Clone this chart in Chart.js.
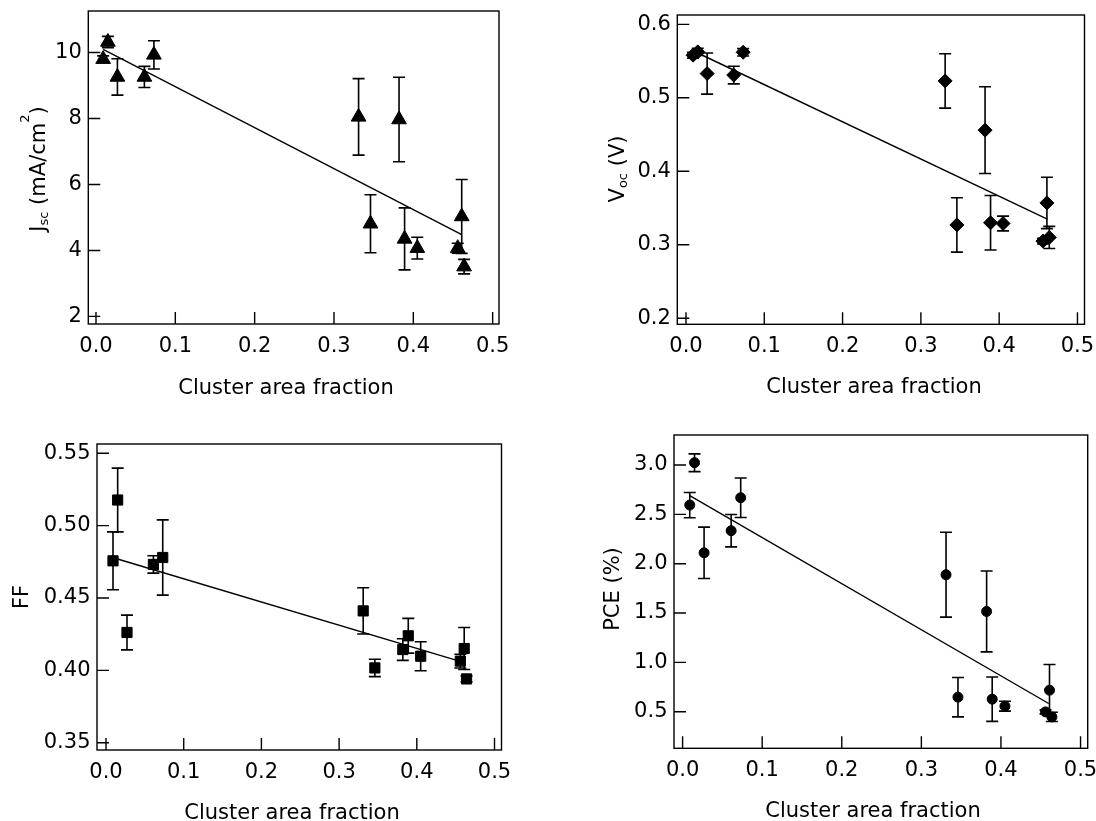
<!DOCTYPE html>
<html lang="en">
  <head>
    <meta charset="UTF-8" />
    <title>Device parameters vs cluster area fraction</title>
    <script src="https://cdn.jsdelivr.net/npm/chart.js@4.4.0/dist/chart.umd.min.js"></script>
    <style>
      body {
        margin: 0;
        background: #fff;
      }
      #wrap {
        position: relative;
        width: 1096px;
        height: 821px;
      }
      #wrap canvas {
        position: absolute;
      }
    </style>
  </head>
  <body>
    <div id="wrap">
      <canvas id="jscChart"></canvas>
      <canvas id="vocChart"></canvas>
      <canvas id="ffChart"></canvas>
      <canvas id="pceChart"></canvas>
    </div>

    <script>
      // cluster area fraction of each device (shared by all four panels)
      const clusterFraction = [0.009, 0.015, 0.027, 0.061, 0.073, 0.331, 0.346, 0.382, 0.389, 0.405, 0.456, 0.461, 0.464];

      const jsc = [9.80, 10.32, 9.26, 9.26, 9.93, 8.05, 4.81, 7.97, 4.35, 4.07, 4.07, 5.03, 3.51];
      const jscErr = [0.10, 0.17, 0.55, 0.32, 0.43, 1.16, 0.88, 1.28, 0.94, 0.33, 0.15, 1.12, 0.22];

      const voc = [0.558, 0.5625, 0.533, 0.531, 0.562, 0.523, 0.327, 0.456, 0.330, 0.329, 0.305, 0.357, 0.310];
      const vocErr = [0.004, 0.005, 0.028, 0.012, 0.005, 0.037, 0.037, 0.059, 0.037, 0.010, 0.004, 0.035, 0.015];

      const ff = [0.4757, 0.5177, 0.4262, 0.4732, 0.478, 0.4411, 0.4017, 0.4144, 0.4239, 0.4098, 0.4064, 0.4151, 0.3941];
      const ffErr = [0.020, 0.022, 0.012, 0.006, 0.026, 0.016, 0.006, 0.0075, 0.012, 0.010, 0.0047, 0.0145, 0.002];

      const pce = [2.594, 3.023, 2.11, 2.334, 2.668, 1.888, 0.647, 1.516, 0.627, 0.556, 0.498, 0.718, 0.447];
      const pceErr = [0.128, 0.09, 0.26, 0.164, 0.20, 0.43, 0.20, 0.41, 0.225, 0.05, 0.02, 0.26, 0.047];

      // linear fit end points
      const jscFitX = [0.009, 0.461];
      const jscFitY = [10.1, 4.48];
      const vocFitX = [0.013, 0.4615];
      const vocFitY = [0.562, 0.335];
      const ffFitX = [0.0094, 0.458];
      const ffFitY = [0.4778, 0.4059];
      const pceFitX = [0.009, 0.46];
      const pceFitY = [2.689, 0.583];

      // tick labels
      const fractionTicks = ['0.0', '0.1', '0.2', '0.3', '0.4', '0.5'];
      const jscTicks = ['2', '4', '6', '8', '10'];
      const vocTicks = ['0.2', '0.3', '0.4', '0.5', '0.6'];
      const ffTicks = ['0.35', '0.40', '0.45', '0.50', '0.55'];
      const pceTicks = ['0.5', '1.0', '1.5', '2.0', '2.5', '3.0'];

      const FONT = 'DejaVu Sans';
      Chart.defaults.font.family = FONT;
      Chart.defaults.font.size = 21;
      Chart.defaults.color = '#000';

      // box = canvas [left, top, width, height]; area = plot frame [left, top, right, bottom]
      const panels = [
        {
          id: 'jscChart', box: [0, 0, 548, 410], area: [88.3, 11, 499, 324],
          xRange: [-0.0097, 0.508], yRange: [1.77, 11.26],
          values: jsc, errors: jscErr, fitX: jscFitX, fitY: jscFitY, yTicks: jscTicks,
          marker: 'triangle', radius: 8.5,
          yTitle: [['J'], ['sc', 'sub'], [' (mA/cm'], ['2', 'sup'], [')']],
          yTitleAt: [45, 169], xTitleAt: [286, 394],
        },
        {
          id: 'vocChart', box: [548, 0, 548, 410], area: [677.3, 15, 1084.5, 324.3],
          xRange: [-0.0111, 0.509], yRange: [0.1918, 0.6127],
          values: voc, errors: vocErr, fitX: vocFitX, fitY: vocFitY, yTicks: vocTicks,
          marker: 'rectRot', radius: 7,
          yTitle: [['V'], ['oc', 'sub'], [' (V)']],
          yTitleAt: [624, 169], xTitleAt: [874, 393],
        },
        {
          id: 'ffChart', box: [0, 410, 548, 411], area: [97, 444, 501.5, 750],
          xRange: [-0.0116, 0.509], yRange: [0.345, 0.5564],
          values: ff, errors: ffErr, fitX: ffFitX, fitY: ffFitY, yTicks: ffTicks,
          marker: 'rect', radius: 7.2,
          yTitle: [['FF']],
          yTitleAt: [27.5, 597], xTitleAt: [292, 819],
        },
        {
          id: 'pceChart', box: [548, 410, 548, 411], area: [674, 435, 1087.7, 748.3],
          xRange: [-0.0108, 0.509], yRange: [0.129, 3.304],
          values: pce, errors: pceErr, fitX: pceFitX, fitY: pceFitY, yTicks: pceTicks,
          marker: 'circle', radius: 5,
          yTitle: [['PCE (%)']],
          yTitleAt: [618.5, 589], xTitleAt: [873, 817],
        },
      ];

      // vertical error bars with caps, drawn under the markers
      const errorBars = {
        id: 'errorBars',
        beforeDatasetsDraw(chart, args, opts) {
          const { ctx } = chart;
          const xs = chart.scales.x;
          const ys = chart.scales.y;
          const pts = chart.data.datasets[0].data;
          ctx.save();
          ctx.strokeStyle = '#000';
          ctx.lineWidth = 1.6;
          pts.forEach((p, i) => {
            const px = xs.getPixelForValue(p.x);
            const top = ys.getPixelForValue(p.y + opts.errors[i]);
            const bot = ys.getPixelForValue(p.y - opts.errors[i]);
            ctx.beginPath();
            ctx.moveTo(px, top);
            ctx.lineTo(px, bot);
            ctx.moveTo(px - 6, top);
            ctx.lineTo(px + 6, top);
            ctx.moveTo(px - 6, bot);
            ctx.lineTo(px + 6, bot);
            ctx.stroke();
          });
          ctx.restore();
        },
      };

      // box frame, inward tick marks and axis titles
      const frame = {
        id: 'frame',
        afterDraw(chart, args, opts) {
          const { ctx, chartArea: a } = chart;
          const xs = chart.scales.x;
          const ys = chart.scales.y;
          ctx.save();
          ctx.strokeStyle = '#000';
          ctx.lineWidth = 1.4;
          ctx.strokeRect(a.left, a.top, a.right - a.left, a.bottom - a.top);
          ctx.beginPath();
          xs.ticks.forEach((t) => {
            const px = xs.getPixelForValue(t.value);
            ctx.moveTo(px, a.bottom);
            ctx.lineTo(px, a.bottom - 12);
          });
          ys.ticks.forEach((t) => {
            const py = ys.getPixelForValue(t.value);
            ctx.moveTo(a.left, py);
            ctx.lineTo(a.left + 12, py);
          });
          ctx.stroke();

          ctx.fillStyle = '#000';
          ctx.textBaseline = 'alphabetic';
          ctx.font = '21px "' + FONT + '"';
          ctx.textAlign = 'center';
          ctx.fillText('Cluster area fraction', opts.xTitle[0], opts.xTitle[1]);

          // rotated y title with sub/superscripts
          const fontFor = (k) => (k ? '13px "' : '21px "') + FONT + '"';
          let total = 0;
          opts.yTitle.forEach(([t, k]) => {
            ctx.font = fontFor(k);
            total += ctx.measureText(t).width;
          });
          ctx.translate(opts.yTitleAt[0], opts.yTitleAt[1]);
          ctx.rotate(-Math.PI / 2);
          ctx.textAlign = 'left';
          let cx = -total / 2;
          opts.yTitle.forEach(([t, k]) => {
            ctx.font = fontFor(k);
            const dy = k === 'sub' ? 3 : k === 'sup' ? -16 : 0;
            ctx.fillText(t, cx, dy);
            cx += ctx.measureText(t).width;
          });
          ctx.restore();
        },
      };

      panels.forEach((p) => {
        const canvas = document.getElementById(p.id);
        const [bx, by, bw, bh] = p.box;
        const [al, at, ar, ab] = p.area;
        canvas.width = bw;
        canvas.height = bh;
        canvas.style.left = bx + 'px';
        canvas.style.top = by + 'px';

        const points = clusterFraction.map((x, i) => ({ x: x, y: p.values[i] }));
        const fit = p.fitX.map((x, i) => ({ x: x, y: p.fitY[i] }));
        const yAxisWidth = al - bx;
        const xAxisHeight = by + bh - ab;

        new Chart(canvas.getContext('2d'), {
          type: 'scatter',
          data: {
            datasets: [
              {
                data: points,
                pointStyle: p.marker,
                pointRadius: p.radius,
                backgroundColor: '#000',
                borderColor: '#000',
                borderWidth: 1,
              },
              {
                data: fit,
                showLine: true,
                pointRadius: 0,
                borderColor: '#000',
                borderWidth: 1.4,
                tension: 0,
              },
            ],
          },
          options: {
            responsive: false,
            animation: false,
            events: [],
            layout: {
              padding: { left: 0, top: at - by, right: bx + bw - ar, bottom: 0 },
            },
            plugins: {
              legend: { display: false },
              tooltip: { enabled: false },
              errorBars: { errors: p.errors },
              frame: {
                yTitle: p.yTitle,
                yTitleAt: [p.yTitleAt[0] - bx, p.yTitleAt[1] - by],
                xTitle: [p.xTitleAt[0] - bx, p.xTitleAt[1] - by],
              },
            },
            scales: {
              x: {
                type: 'linear',
                min: p.xRange[0],
                max: p.xRange[1],
                grid: { display: false, drawTicks: false },
                border: { display: false },
                ticks: {
                  padding: 10,
                  autoSkip: false,
                  maxRotation: 0,
                  callback: (v, i) => fractionTicks[i],
                },
                afterBuildTicks: (s) => {
                  s.ticks = fractionTicks.map((t) => ({ value: parseFloat(t) }));
                },
                afterFit: (s) => {
                  s.height = xAxisHeight;
                  s.paddingLeft = 0;
                  s.paddingRight = 0;
                },
              },
              y: {
                type: 'linear',
                min: p.yRange[0],
                max: p.yRange[1],
                grid: { display: false, drawTicks: false },
                border: { display: false },
                ticks: {
                  padding: 6.5,
                  autoSkip: false,
                  callback: (v, i) => p.yTicks[i],
                },
                afterBuildTicks: (s) => {
                  s.ticks = p.yTicks.map((t) => ({ value: parseFloat(t) }));
                },
                afterFit: (s) => {
                  s.width = yAxisWidth;
                  s.paddingTop = 0;
                  s.paddingBottom = 0;
                },
              },
            },
          },
          plugins: [errorBars, frame],
        });
      });
    </script>
  </body>
</html>
